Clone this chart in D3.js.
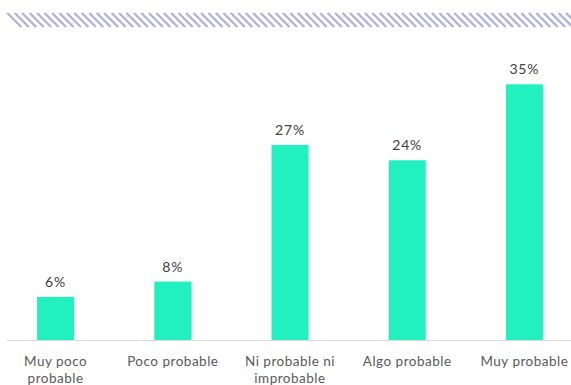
<!DOCTYPE html>
<html>
<head>
<meta charset="utf-8">
<script src="https://cdn.jsdelivr.net/npm/d3@7/dist/d3.min.js"></script>
<style>
  html, body { margin: 0; padding: 0; background: #fff; }
  svg { display: block; font-family: "Lato", "Noto Sans", sans-serif; }
</style>
</head>
<body>
<svg id="chart" width="571" height="385"></svg>
<script>
const categories = ["Muy poco probable", "Poco probable", "Ni probable ni improbable", "Algo probable", "Muy probable"];
const values = [5.9, 8.0, 26.7, 24.6, 35.0];
const valueLabels = ["6%", "8%", "27%", "24%", "35%"];

const W = 571, H = 385;
const svg = d3.select("#chart");

// decorative hatch band at top
const hatch = svg.append("g");
const hx = d3.range(7.3, W + 2, 7.45);
hatch.selectAll("line").data(hx).join("line")
  .attr("x1", d => d).attr("y1", 13)
  .attr("x2", d => d + 14).attr("y2", 27)
  .attr("stroke", "#b0b0da").attr("stroke-width", 2.3);

const baseY = 340;
const x = d3.scaleBand().domain(categories).range([-3, 583]).paddingInner(0.684).paddingOuter(0.342);
const y = d3.scaleLinear().domain([0, 35]).range([baseY, 84.3]);

// baseline
svg.append("line").attr("x1", 7).attr("x2", W).attr("y1", baseY + 0.5).attr("y2", baseY + 0.5)
  .attr("stroke", "#d9d9d9").attr("stroke-width", 1);

svg.append("g").selectAll("rect").data(values).join("rect")
  .attr("x", (d, i) => x(categories[i]))
  .attr("width", x.bandwidth())
  .attr("y", d => y(d))
  .attr("height", d => baseY - y(d))
  .attr("fill", "#22f0bf");

svg.append("g").selectAll("text").data(values).join("text")
  .attr("x", (d, i) => x(categories[i]) + x.bandwidth() / 2)
  .attr("y", d => y(d) - 10)
  .attr("text-anchor", "middle")
  .attr("font-size", 14)
  .attr("letter-spacing", 0.8)
  .attr("fill", "#404040")
  .text((d, i) => valueLabels[i]);

// category labels with wrapping
const catG = svg.append("g");
categories.forEach((c, i) => {
  const cx = x(c) + x.bandwidth() / 2;
  const t = catG.append("text")
    .attr("x", cx)
    .attr("y", 366)
    .attr("text-anchor", "middle")
    .attr("font-size", 13.5)
    .attr("letter-spacing", 0.5)
    .attr("fill", "#595959");
  const words = c.split(" ");
  let line = [];
  let ts = t.append("tspan").attr("x", cx).attr("dy", 0);
  words.forEach(w => {
    line.push(w);
    ts.text(line.join(" "));
    if (ts.node().getComputedTextLength() > 105 && line.length > 1) {
      line.pop();
      ts.text(line.join(" "));
      line = [w];
      ts = t.append("tspan").attr("x", cx).attr("dy", 16.5).text(w);
    }
  });
});
</script>
</body>
</html>
